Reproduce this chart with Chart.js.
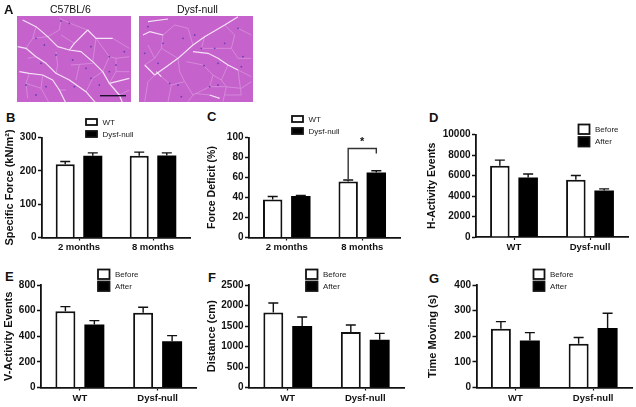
<!DOCTYPE html>
<html>
<head>
<meta charset="utf-8">
<script src="https://cdn.jsdelivr.net/npm/chart.js@4"></script>
<style>
  html, body { margin: 0; padding: 0; background: #fff; width: 636px; height: 407px; overflow: hidden; }
  canvas { position: absolute; }
  canvas.micro { filter: blur(0.7px); }
  .lbl { position: absolute; font-family: 'Liberation Sans', Arial, sans-serif; color: #111; white-space: nowrap; line-height: 1; }
  .letter { font-size: 13px; font-weight: bold; }
  .cap { font-size: 10.5px; }
</style>
</head>
<body>
<script>
// categories
const monthCats = ['2 months', '8 months'];
const groupCats = ['WT', 'Dysf-null'];

// panel B - specific force
const forceTicks = [0, 100, 200, 300];
const forceWT = [220, 245];
const forceWTErr = [8, 11];
const forceNull = [245, 246];
const forceNullErr = [9, 8];

// panel C - force deficit
const deficitTicks = [0, 20, 40, 60, 80, 100];
const deficitWT = [38, 56];
const deficitWTErr = [3, 1.5];
const deficitNull = [41.5, 65];
const deficitNullErr = [0.5, 1.7];

// panel D - H activity
const hTicks = [0, 2000, 4000, 6000, 8000, 10000];
const hBefore = [6950, 5580];
const hBeforeErr = [550, 420];
const hAfter = [5810, 4545];
const hAfterErr = [330, 155];

// panel E - V activity
const vTicks = [0, 200, 400, 600, 800];
const vBefore = [595, 584];
const vBeforeErr = [36, 42];
const vAfter = [491, 361];
const vAfterErr = [31, 44];

// panel F - distance
const distTicks = [0, 500, 1000, 1500, 2000, 2500];
const distBefore = [1832, 1352];
const distBeforeErr = [228, 171];
const distAfter = [1498, 1165];
const distAfterErr = [220, 154];

// panel G - time moving
const timeTicks = [0, 100, 200, 300, 400];
const timeBefore = [229, 171];
const timeBeforeErr = [28, 24];
const timeAfter = [183, 232];
const timeAfterErr = [31, 58];

// bracket on panel C, in y axis units
const bracketLeftFrom = 58.5;
const bracketTop = 89;
const bracketRightTo = 84;

const FONT = "'Liberation Sans', Arial, sans-serif";

// micrograph cell walls, traced by eye, in 3x crop pixels
const wallsLeft = [
  [[20,15],[60,35],[95,65],[125,95],[160,105],[195,110],[230,140],[260,170],[280,205],[310,240],[320,265]],
  [[5,95],[30,100],[60,125],[90,145],[120,175],[160,195],[210,230],[240,265]],
  [[10,170],[40,175],[80,180],[110,195],[130,225],[150,265]],
  [[215,45],[240,70],[290,70]],
  [[160,105],[175,85],[215,45]],
  [[280,205],[340,190]]
];
const faintLeft = [
  [[130,10],[175,30],[215,45]],
  [[290,70],[340,100]],
  [[240,70],[230,140]],
  [[60,35],[50,70],[30,100]],
  [[120,110],[125,150],[120,175]],
  [[165,150],[230,145]],
  [[300,130],[300,170],[280,205]],
  [[40,175],[30,205],[35,250]],
  [[80,180],[75,220],[100,265]],
  [[95,65],[130,45],[135,15]],
  [[50,70],[95,65]],
  [[175,85],[135,60]],
  [[190,150],[180,195]],
  [[230,190],[210,230]],
  [[260,170],[230,190]],
  [[280,125],[300,130],[340,125]],
  [[240,70],[280,125],[260,170]],
  [[300,170],[340,170]],
  [[310,240],[340,225]],
  [[35,130],[60,125]],
  [[30,205],[75,220]],
  [[150,225],[130,225]]
];
const wallsRight = [
  [[50,180],[85,155],[120,130],[165,90],[200,65],[260,30],[300,5]],
  [[165,110],[210,115],[240,130],[270,150],[300,165]],
  [[55,170],[70,185]],
  [[15,60],[35,50],[75,60]],
  [[215,240],[245,250]],
  [[20,150],[50,180]],
  [[30,20],[90,12]]
];
const faintRight = [
  [[70,185],[100,210],[90,260]],
  [[75,60],[110,30],[150,40],[165,90]],
  [[75,60],[70,100],[50,130],[20,150]],
  [[50,180],[30,200],[20,260]],
  [[200,65],[190,100]],
  [[145,140],[195,150],[225,180],[215,215],[165,240],[150,260]],
  [[270,150],[250,195],[265,215],[255,260]],
  [[225,180],[250,195]],
  [[300,165],[340,185]],
  [[300,165],[310,240],[260,240]],
  [[170,235],[215,240]],
  [[120,130],[125,170],[140,200],[165,240]],
  [[215,215],[260,215],[310,220],[340,200]],
  [[260,30],[290,60],[280,100],[300,130],[340,130]],
  [[190,100],[230,100],[280,100]],
  [[70,100],[120,130]],
  [[100,210],[140,200]],
  [[30,90],[50,130]],
  [[300,40],[340,60]]
];
const nucleiLeft = [[135,18],[160,25],[60,70],[85,90],[75,145],[120,120],[170,135],[210,160],[225,95],[280,125],[300,150],[325,110],[30,210],[90,215],[175,215],[225,190],[250,210],[60,240],[280,170]];
const nucleiRight = [[30,35],[60,145],[75,85],[135,70],[190,100],[230,100],[260,85],[300,40],[310,155],[198,152],[240,145],[95,205],[120,210],[215,215],[240,210],[315,125],[20,115],[130,245],[170,60]];

function traceWalls(ctx, walls, color, width) {
  ctx.strokeStyle = color;
  ctx.lineWidth = width;
  ctx.lineJoin = 'round';
  walls.forEach(w => {
    ctx.beginPath();
    w.forEach((p, i) => {
      const x = p[0] / 3 - 1, y = p[1] / 3 - 1;
      if (i === 0) ctx.moveTo(x, y); else ctx.lineTo(x, y);
    });
    ctx.stroke();
  });
}

function drawMicrograph(left, top, walls, faint, nuclei, withBar) {
  const c = document.createElement('canvas');
  c.className = 'micro';
  c.width = 114; c.height = 86;
  c.style.left = left + 'px'; c.style.top = top + 'px';
  document.body.appendChild(c);
  const ctx = c.getContext('2d');
  ctx.fillStyle = '#c662cc';
  ctx.fillRect(0, 0, 114, 86);
  traceWalls(ctx, faint, '#d68cdb', 0.9);
  traceWalls(ctx, walls, '#f5e2f6', 1.2);
  ctx.fillStyle = '#6a3fb0';
  nuclei.forEach(p => {
    ctx.beginPath();
    ctx.arc(p[0] / 3 - 1, p[1] / 3 - 1, 0.9, 0, Math.PI * 2);
    ctx.fill();
  });
  if (withBar) {
    ctx.fillStyle = '#1a1030';
    ctx.fillRect(83, 79, 26, 1.4);
  }
}

function addLabel(text, x, y, cls) {
  const d = document.createElement('div');
  d.className = 'lbl ' + cls;
  d.textContent = text;
  d.style.left = x + 'px';
  d.style.top = y + 'px';
  document.body.appendChild(d);
}

// error bars, legend and bracket for one panel
const panelExtras = {
  id: 'panelExtras',
  afterDatasetsDraw(chart) {
    const ctx = chart.ctx;
    const yScale = chart.scales.y;
    ctx.save();
    ctx.strokeStyle = '#111';
    ctx.lineWidth = 1.4;
    chart.data.datasets.forEach((ds, di) => {
      chart.getDatasetMeta(di).data.forEach((bar, i) => {
        const yTop = yScale.getPixelForValue(ds.data[i] + ds.errs[i]);
        ctx.beginPath();
        ctx.moveTo(bar.x, bar.y);
        ctx.lineTo(bar.x, yTop);
        ctx.moveTo(bar.x - 5, yTop);
        ctx.lineTo(bar.x + 5, yTop);
        ctx.stroke();
      });
    });
    ctx.restore();
  },
  afterDraw(chart) {
    const ctx = chart.ctx;
    const p = chart.options.plugins.panelExtras;
    ctx.save();
    chart.data.datasets.forEach((ds, di) => {
      const y = p.legendY[di];
      ctx.fillStyle = ds.backgroundColor;
      ctx.strokeStyle = '#111';
      ctx.lineWidth = 1.8;
      ctx.fillRect(p.legendX, y, p.boxW, p.boxH);
      ctx.strokeRect(p.legendX, y, p.boxW, p.boxH);
      ctx.fillStyle = '#222';
      ctx.font = '8px ' + FONT;
      ctx.textBaseline = 'middle';
      ctx.textAlign = 'left';
      ctx.fillText(ds.label, p.legendX + p.boxW + 5.5, y + p.boxH / 2 + 0.5);
    });
    if (p.bracket) {
      const yScale = chart.scales.y;
      const b0 = chart.getDatasetMeta(0).data[1];
      const b1 = chart.getDatasetMeta(1).data[1];
      ctx.strokeStyle = '#333';
      ctx.lineWidth = 1.4;
      ctx.beginPath();
      ctx.moveTo(b0.x, yScale.getPixelForValue(bracketLeftFrom));
      ctx.lineTo(b0.x, yScale.getPixelForValue(bracketTop));
      ctx.lineTo(b1.x, yScale.getPixelForValue(bracketTop));
      ctx.lineTo(b1.x, yScale.getPixelForValue(bracketRightTo));
      ctx.stroke();
      ctx.fillStyle = '#111';
      ctx.font = 'bold 11px ' + FONT;
      ctx.textAlign = 'center';
      ctx.textBaseline = 'alphabetic';
      ctx.fillText('*', (b0.x + b1.x) / 2, yScale.getPixelForValue(bracketTop) - 4);
    }
    ctx.restore();
  }
};

function makePanel(cfg) {
  const c = document.createElement('canvas');
  c.width = cfg.w; c.height = cfg.h;
  c.style.left = cfg.left + 'px'; c.style.top = cfg.top + 'px';
  document.body.appendChild(c);
  const yTicks = cfg.ticks;
  new Chart(c.getContext('2d'), {
    type: 'bar',
    data: {
      labels: cfg.cats,
      datasets: [
        { label: cfg.names[0], data: cfg.a, errs: cfg.aErr, backgroundColor: '#ffffff', borderColor: '#111', borderWidth: 2 },
        { label: cfg.names[1], data: cfg.b, errs: cfg.bErr, backgroundColor: '#000000', borderWidth: 0 }
      ]
    },
    plugins: [panelExtras],
    options: {
      responsive: false,
      animation: false,
      devicePixelRatio: 1,
      datasets: { bar: { categoryPercentage: 0.745, barPercentage: 0.69 } },
      layout: {
        padding: {
          left: 0,
          top: cfg.axisTop - cfg.top,
          right: cfg.left + cfg.w - cfg.axisEnd,
          bottom: 0
        }
      },
      plugins: {
        legend: { display: false },
        tooltip: { enabled: false },
        panelExtras: { legendX: cfg.legX - cfg.left, legendY: cfg.legY.map(v => v - cfg.top), boxW: cfg.boxW, boxH: cfg.boxH, bracket: !!cfg.bracket }
      },
      scales: {
        x: {
          afterFit(s) { s.height = cfg.top + cfg.h - cfg.axisBottom; s.paddingLeft = 0; s.paddingRight = 0; },
          border: { color: '#111', width: 1.8 },
          grid: { drawOnChartArea: false, drawTicks: true, tickLength: 3, tickColor: '#111', tickWidth: 1.2, offset: false },
          ticks: { color: '#111', padding: cfg.xPad, maxRotation: 0, font: { family: FONT, size: 9.5, weight: 'bold' } }
        },
        y: {
          min: 0,
          max: yTicks[yTicks.length - 1],
          afterFit(s) { s.width = cfg.axisX - cfg.left; s.paddingTop = 0; s.paddingBottom = 0; },
          border: { color: '#111', width: 1.8 },
          grid: { drawOnChartArea: false, drawTicks: true, tickLength: 4, tickColor: '#111', tickWidth: 1.5 },
          ticks: { stepSize: yTicks[1], color: '#111', padding: 1.5, font: { family: FONT, size: 10, weight: 'bold' }, callback: v => String(v) },
          title: { display: true, text: cfg.title, color: '#111', padding: { top: cfg.titlePad, bottom: 0 }, font: { family: FONT, size: cfg.titleSize, weight: 'bold', lineHeight: 1.2 } }
        }
      }
    }
  });
}

drawMicrograph(17, 16, wallsLeft, faintLeft, nucleiLeft, true);
drawMicrograph(139, 16, wallsRight, faintRight, nucleiRight, false);
addLabel('C57BL/6', 50, 4, 'cap');
addLabel('Dysf-null', 177, 4, 'cap');

addLabel('A', 4, 3, 'letter');
addLabel('B', 6, 111, 'letter');
addLabel('C', 207, 110, 'letter');
addLabel('D', 429, 111, 'letter');
addLabel('E', 5, 270, 'letter');
addLabel('F', 208, 271, 'letter');
addLabel('G', 429, 272, 'letter');

const wtNull = ['WT', 'Dysf-null'];
const beforeAfter = ['Before', 'After'];

makePanel({ left: 0, top: 105, w: 205, h: 155, axisX: 42, axisEnd: 190, axisTop: 137.5, axisBottom: 237.5, xPad: 1.5, title: 'Specific Force (kN/m²)', titleSize: 11, titlePad: 3.4, cats: monthCats, names: wtNull, a: forceWT, aErr: forceWTErr, b: forceNull, bErr: forceNullErr, ticks: forceTicks, legX: 86, legY: [119, 131], boxW: 11, boxH: 6 });
makePanel({ left: 205, top: 105, w: 215, h: 155, axisX: 249, axisEnd: 400, axisTop: 137.5, axisBottom: 237.5, xPad: 1.5, title: 'Force Deficit (%)', titleSize: 10.5, titlePad: 0.4, cats: monthCats, names: wtNull, a: deficitWT, aErr: deficitWTErr, b: deficitNull, bErr: deficitNullErr, ticks: deficitTicks, legX: 292, legY: [116, 128], boxW: 11, boxH: 6, bracket: true });
makePanel({ left: 420, top: 105, w: 216, h: 155, axisX: 476, axisEnd: 628, axisTop: 134.5, axisBottom: 237, xPad: 1.5, title: 'H-Activity Events', titleSize: 10.5, titlePad: 6, cats: groupCats, names: beforeAfter, a: hBefore, aErr: hBeforeErr, b: hAfter, bErr: hAfterErr, ticks: hTicks, legX: 578.5, legY: [124.5, 137], boxW: 11, boxH: 9.5 });
makePanel({ left: 0, top: 260, w: 205, h: 147, axisX: 41, axisEnd: 196.5, axisTop: 285, axisBottom: 387.5, xPad: 2.5, title: 'V-Activity Events', titleSize: 11, titlePad: 2.4, cats: groupCats, names: beforeAfter, a: vBefore, aErr: vBeforeErr, b: vAfter, bErr: vAfterErr, ticks: vTicks, legX: 98, legY: [269.5, 281.5], boxW: 11.5, boxH: 9.5 });
makePanel({ left: 205, top: 260, w: 215, h: 147, axisX: 249, axisEnd: 404, axisTop: 285, axisBottom: 387.5, xPad: 2.5, title: 'Distance (cm)', titleSize: 11, titlePad: 0.4, cats: groupCats, names: beforeAfter, a: distBefore, aErr: distBeforeErr, b: distAfter, bErr: distAfterErr, ticks: distTicks, legX: 306, legY: [269.5, 281.5], boxW: 11.5, boxH: 9.5 });
makePanel({ left: 420, top: 260, w: 216, h: 147, axisX: 476.5, axisEnd: 632, axisTop: 285, axisBottom: 387.5, xPad: 2.5, title: 'Time Moving (s)', titleSize: 11, titlePad: 6.4, cats: groupCats, names: beforeAfter, a: timeBefore, aErr: timeBeforeErr, b: timeAfter, bErr: timeAfterErr, ticks: timeTicks, legX: 533.5, legY: [269.5, 281.5], boxW: 11, boxH: 9.5 });
</script>
</body>
</html>
